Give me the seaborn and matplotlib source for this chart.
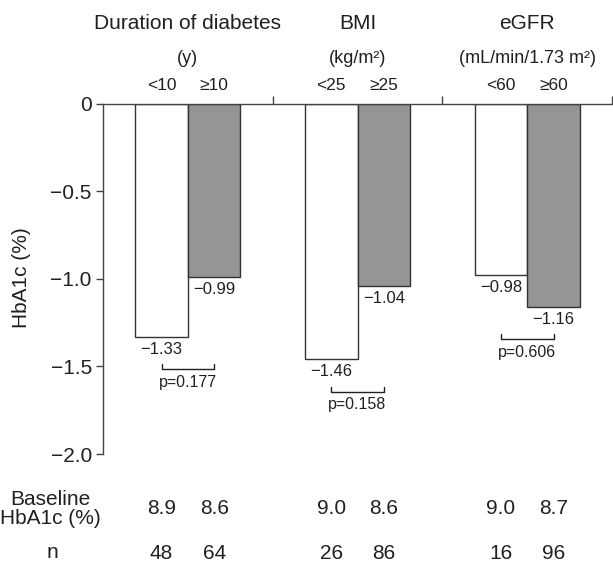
import numpy as np
import pandas as pd
import matplotlib
matplotlib.use('Agg')
import matplotlib.pyplot as plt
import seaborn as sns

# values
groups = ['Duration of diabetes', 'BMI', 'eGFR']
units = ['(y)', '(kg/m²)', '(mL/min/1.73 m²)']
low_labels = ['<10', '<25', '<60']
high_labels = ['≥10', '≥25', '≥60']
low_change = [-1.33, -1.46, -0.98]
high_change = [-0.99, -1.04, -1.16]
p_values = ['p=0.177', 'p=0.158', 'p=0.606']
baseline_low = ['8.9', '9.0', '9.0']
baseline_high = ['8.6', '8.6', '8.7']
n_low = [48, 26, 16]
n_high = [64, 86, 96]
yticks = [0, -0.5, -1.0, -1.5, -2.0]
ytick_labels = ['0', '−0.5', '−1.0', '−1.5', '−2.0']

sns.set_style('ticks')
plt.rcParams['font.family'] = ['Liberation Sans', 'DejaVu Sans']
ink = '#231f20'

df = pd.DataFrame({
    'group': groups * 2,
    'level': ['low'] * 3 + ['high'] * 3,
    'change': low_change + high_change,
})

fig = plt.figure(figsize=(6.13, 5.63), dpi=100)
ax = fig.add_axes([0.168, 0.1936, 0.8305, 0.6217])

sns.barplot(data=df, x='group', y='change', hue='level', hue_order=['low', 'high'],
            palette=['white', '#939598'], width=0.62, edgecolor='#333333',
            linewidth=1.0, errorbar=None, legend=False, ax=ax)

ax.set_xlim(-0.5, 2.5)
ax.set_ylim(-2.0, 0)
ax.set_xlabel('')
ax.set_ylabel('')

# zero line = top spine, with short upward separators between groups
for side in ['bottom', 'right']:
    ax.spines[side].set_visible(False)
for side in ['top', 'left']:
    ax.spines[side].set_color('#444444')
    ax.spines[side].set_linewidth(1.0)
ax.set_xticks([0.5, 1.5, 2.5])
ax.tick_params(axis='x', bottom=False, labelbottom=False, top=True, labeltop=False,
               direction='out', length=6, width=1, color='#444444')
ax.set_yticks(yticks)
ax.set_yticklabels(ytick_labels)
ax.tick_params(axis='y', direction='out', length=5, width=1, color='#444444',
               labelsize=15, labelcolor=ink, pad=3)

fig.text(22 / 613, 1 - 278 / 563, 'HbA1c (%)', rotation=90, ha='center', va='center',
         fontsize=15, color=ink)

tr = ax.get_xaxis_transform()
off = 0.155
for i in range(3):
    xl, xh = i - off, i + off
    ax.text(i, 1.229, groups[i], transform=tr, ha='center', va='center', fontsize=15, color=ink)
    ax.text(i, 1.129, units[i], transform=tr, ha='center', va='center', fontsize=13, color=ink)
    ax.text(xl, 1.054, low_labels[i], transform=tr, ha='center', va='center', fontsize=12.5, color=ink)
    ax.text(xh, 1.054, high_labels[i], transform=tr, ha='center', va='center', fontsize=12.5, color=ink)

    # value labels under each bar
    ax.annotate(f'{low_change[i]:.2f}'.replace('-', '−'), (xl, low_change[i]),
                xytext=(0, -3.5), textcoords='offset points', ha='center', va='top',
                fontsize=12, color=ink)
    ax.annotate(f'{high_change[i]:.2f}'.replace('-', '−'), (xh, high_change[i]),
                xytext=(0, -3.5), textcoords='offset points', ha='center', va='top',
                fontsize=12, color=ink)

    # bracket and p value
    yb = min(low_change[i], high_change[i]) - 0.185
    ax.plot([xl, xl, xh, xh], [yb + 0.03, yb, yb, yb + 0.03], color=ink, lw=1.0,
            clip_on=False)
    ax.annotate(p_values[i], (i, yb), xytext=(0, -4), textcoords='offset points',
                ha='center', va='top', fontsize=11.5, color=ink)

    # table rows under the chart
    ax.text(xl, -0.157, baseline_low[i], transform=tr, ha='center', va='center', fontsize=15, color=ink)
    ax.text(xh, -0.157, baseline_high[i], transform=tr, ha='center', va='center', fontsize=15, color=ink)
    ax.text(xl, -0.283, str(n_low[i]), transform=tr, ha='center', va='center', fontsize=15, color=ink)
    ax.text(xh, -0.283, str(n_high[i]), transform=tr, ha='center', va='center', fontsize=15, color=ink)

fig.text(50 / 613, 1 - 509 / 563, 'Baseline\nHbA1c (%)', ha='center', va='center',
         fontsize=15, color=ink, linespacing=1.05)
fig.text(52 / 613, 1 - 553 / 563, 'n', ha='center', va='center', fontsize=15, color=ink)

fig.savefig('out.png', dpi=100)
